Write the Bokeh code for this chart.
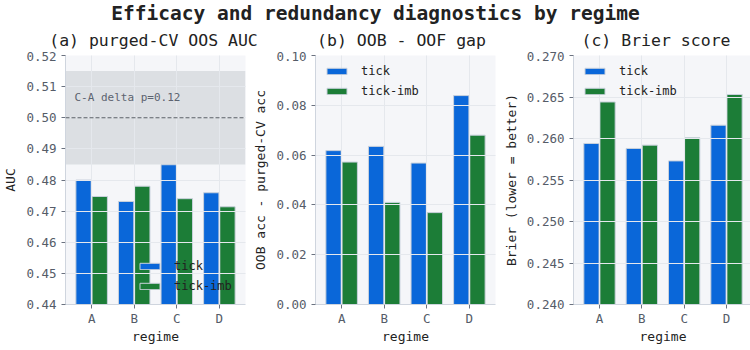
from bokeh.plotting import figure
from bokeh.layouts import column, row
from bokeh.models import (FactorRange, Range1d, FixedTicker, NumeralTickFormatter,
                          BoxAnnotation, Span, Label, Legend, LegendItem, ColumnDataSource)
from bokeh.transform import dodge
from bokeh.embed import file_html
from bokeh.resources import INLINE

# ---- data -------------------------------------------------------------
regimes = ["A", "B", "C", "D"]
series = ["tick", "tick-imb"]

auc_tick = [0.4800, 0.4731, 0.4849, 0.4759]
auc_imb = [0.4747, 0.4780, 0.4740, 0.4714]

gap_tick = [0.0618, 0.0635, 0.0568, 0.0839]
gap_imb = [0.0572, 0.0410, 0.0369, 0.0680]

brier_tick = [0.2594, 0.2588, 0.2573, 0.2616]
brier_imb = [0.2644, 0.2592, 0.2601, 0.2653]

auc_chance = 0.50
auc_band = (0.485, 0.515)
ca_delta_p = 0.12

auc_ticks = [0.44, 0.45, 0.46, 0.47, 0.48, 0.49, 0.50, 0.51, 0.52]
gap_ticks = [0.00, 0.02, 0.04, 0.06, 0.08, 0.10]
brier_ticks = [0.240, 0.245, 0.250, 0.255, 0.260, 0.265, 0.270]

suptitle = "Efficacy and redundancy diagnostics by regime"
panel_titles = ["(a) purged-CV OOS AUC", "(b) OOB - OOF gap", "(c) Brier score"]

# ---- style ------------------------------------------------------------
FONT = "DejaVu Sans Mono"
BLUE = "#0a67d9"
GREEN = "#1c7d37"
EDGE = "#c9d1dc"
BG = "#f5f6f9"
GRID = "#e5e8ed"
SPINE = "#cfd5de"
TICK_TXT = "#555c68"
DARK = "#222222"

BAR_W = 0.36
OFFSET = 0.19

HEAD_H = 51
FRAME_H = 249
TOP_B = 4
BOTTOM_B = 46
# (left border, frame width, right border) of each panel
GEOM = [(63, 180, 5), (63, 180, 5), (70, 179, 5)]


def panel(ylabel, tick_vals, imb_vals, yr, ticks, fmt, geom, legend_loc):
    left, frame_w, right = geom
    src = ColumnDataSource(dict(regime=regimes, tick=tick_vals, imb=imb_vals))
    p = figure(
        frame_width=frame_w, frame_height=FRAME_H,
        x_range=FactorRange(factors=regimes, range_padding=0.114,
                            range_padding_units="absolute"),
        y_range=Range1d(*yr),
        toolbar_location=None, output_backend="svg",
        min_border_left=left, min_border_right=right,
        min_border_top=TOP_B, min_border_bottom=BOTTOM_B,
        background_fill_color=BG, border_fill_color="white",
        outline_line_color=None,
    )
    r1 = p.vbar(x=dodge("regime", -OFFSET, range=p.x_range), top="tick", bottom=0,
                width=BAR_W, source=src, fill_color=BLUE, line_color=EDGE, line_width=1)
    r2 = p.vbar(x=dodge("regime", OFFSET, range=p.x_range), top="imb", bottom=0,
                width=BAR_W, source=src, fill_color=GREEN, line_color=EDGE, line_width=1)

    for ax in (p.xaxis[0], p.yaxis[0]):
        ax.axis_line_color = SPINE
        ax.major_tick_line_color = "#6b7280"
        ax.major_tick_out = 4
        ax.major_tick_in = 0
        ax.minor_tick_line_color = None
        ax.major_label_text_font = FONT
        ax.major_label_text_font_size = "12.5px"
        ax.major_label_text_color = TICK_TXT
        ax.axis_label_text_font = FONT
        ax.axis_label_text_font_size = "13px"
        ax.axis_label_text_font_style = "normal"
        ax.axis_label_text_color = DARK
    p.yaxis.major_label_standoff = 5
    p.yaxis.axis_label_standoff = 5
    p.xaxis.major_label_standoff = 2
    p.xaxis.axis_label_standoff = 0
    p.xaxis.axis_label = "regime"
    p.yaxis.axis_label = ylabel
    p.yaxis.ticker = FixedTicker(ticks=ticks)
    p.yaxis.formatter = NumeralTickFormatter(format=fmt)

    p.xgrid.grid_line_color = GRID
    p.ygrid.grid_line_color = GRID
    p.ygrid.ticker = FixedTicker(ticks=ticks)
    p.xgrid.level = "guide"
    p.ygrid.level = "guide"

    legend = Legend(
        items=[LegendItem(label=series[0], renderers=[r1]),
               LegendItem(label=series[1], renderers=[r2])],
        location=legend_loc, padding=0, margin=0, spacing=0,
        glyph_width=25, glyph_height=8, label_height=20, label_standoff=12,
        label_text_font=FONT, label_text_font_size="12px", label_text_color=DARK,
        background_fill_alpha=0, border_line_alpha=0,
    )
    p.add_layout(legend)
    return p


pa = panel("AUC", auc_tick, auc_imb, (0.44, 0.52), auc_ticks, "0.00",
           GEOM[0], (72, 8))
pb = panel("OOB acc - purged-CV acc", gap_tick, gap_imb, (0.0, 0.10), gap_ticks, "0.00",
           GEOM[1], (9, 203))
pc = panel("Brier (lower = better)", brier_tick, brier_imb, (0.24, 0.27), brier_ticks,
           "0.000", GEOM[2], (9, 203))

# chance-level reference and its band on the AUC panel
pa.add_layout(BoxAnnotation(bottom=auc_band[0], top=auc_band[1],
                            fill_color="#dcdfe3", fill_alpha=1.0,
                            line_color=None, level="underlay"))
pa.add_layout(Span(location=auc_chance, dimension="width", line_color="#5a5f66",
                   line_width=1.2, line_dash="4 2"))
pa.add_layout(Label(x=9, y=0.5066, x_units="screen", y_units="data",
                    text=f"C-A delta p={ca_delta_p:.2f}", text_font=FONT,
                    text_font_size="11px", text_color="#5c6370",
                    text_baseline="middle"))

# heading strip: overall title plus one title centred over each panel frame
total_w = sum(sum(g) for g in GEOM)
head = figure(width=total_w, height=HEAD_H,
              x_range=Range1d(0, total_w), y_range=Range1d(HEAD_H, 0),
              toolbar_location=None, output_backend="svg", min_border=0,
              x_axis_location=None, y_axis_location=None,
              outline_line_color=None, background_fill_color="white",
              border_fill_color="white")
head.grid.visible = False
head.add_layout(Label(x=total_w / 2, y=13, text=suptitle,
                      text_font=FONT, text_font_size="19.5px", text_font_style="bold",
                      text_color=DARK, text_align="center", text_baseline="middle"))
x0 = 0
for (left, frame_w, right), t in zip(GEOM, panel_titles):
    head.add_layout(Label(x=x0 + left + frame_w / 2, y=40, text=t,
                          text_font=FONT, text_font_size="16.5px",
                          text_color=DARK, text_align="center",
                          text_baseline="middle"))
    x0 += left + frame_w + right

layout = column(head, row(pa, pb, pc), spacing=0)
open("out.html", "w").write(file_html(layout, INLINE))
